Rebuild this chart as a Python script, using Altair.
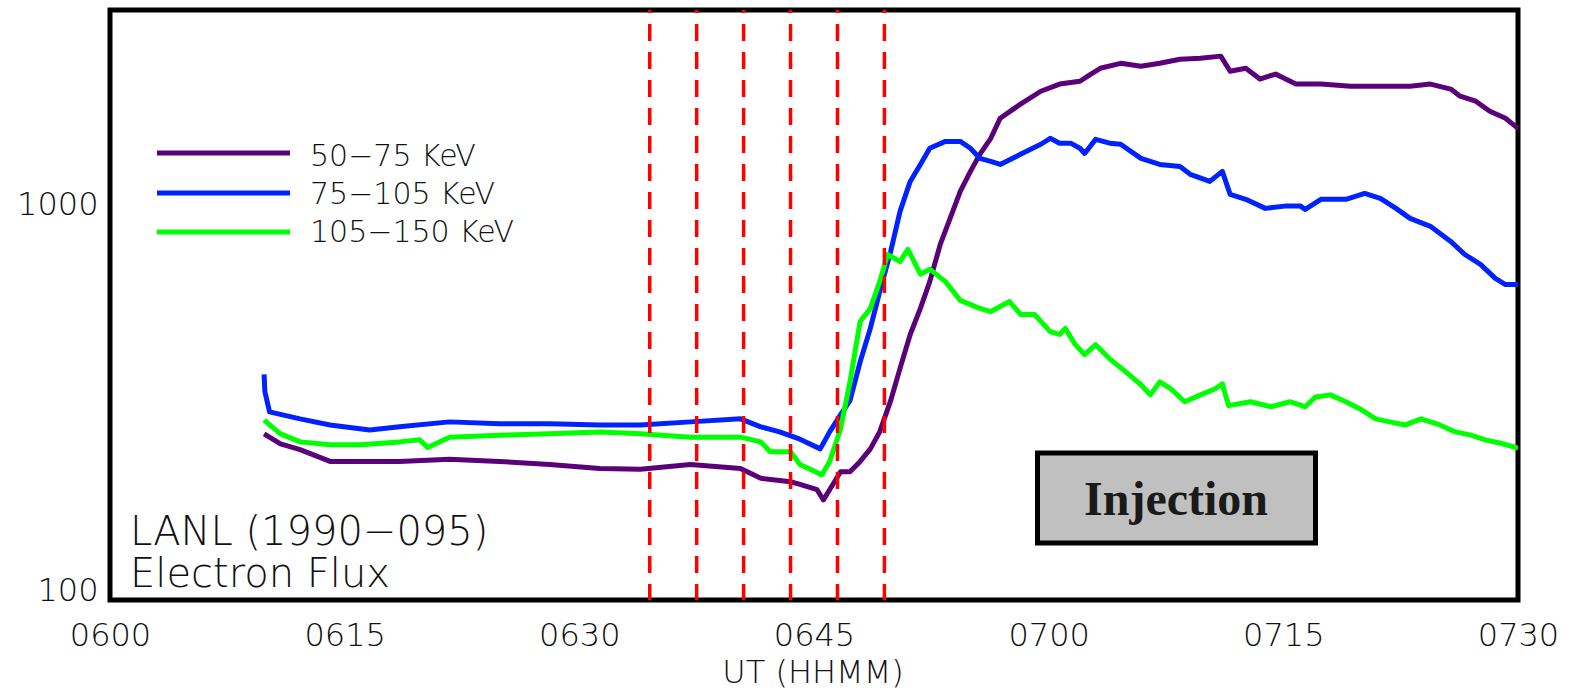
import altair as alt
import pandas as pd

# time = minutes after 06:00 UT, flux in counts
purple_t = [9.85, 10.9, 12.15, 14.07, 16.0, 18.5, 21.7, 24.9, 28.1, 31.3, 33.9, 37.1, 40.3, 41.6, 43.5,
            44.1, 45.2, 45.6, 46.7, 47.3, 47.95, 48.6, 49.2, 49.9, 50.5, 51.15, 51.8, 52.4, 53.07, 53.7,
            54.35, 55.0, 55.6, 56.3, 56.9, 58.2, 59.5, 60.7, 62.0, 62.7, 63.3, 64.6, 65.9, 67.1, 68.4,
            69.7, 71.0, 71.6, 72.6, 73.5, 74.5, 75.8, 77.4, 79.3, 81.2, 83.1, 84.4, 85.7, 86.3, 87.3,
            88.2, 89.2, 90.0]
purple_v = [263, 248, 240, 224, 224, 224, 227, 224, 220, 215, 214, 220, 215, 203, 199,
            196, 190, 179, 211, 211, 224, 241, 266, 319, 385, 469, 546, 638, 792, 922,
            1078, 1212, 1338, 1469, 1651, 1792, 1932, 2014, 2048, 2135, 2208, 2273, 2235, 2273, 2328,
            2340, 2370, 2170, 2208, 2074, 2135, 2014, 2014, 1990, 1990, 1990, 2014, 1956, 1877, 1823,
            1719, 1651, 1556]

blue_t = [9.85, 9.9, 10.2, 12.15, 14.07, 16.6, 18.5, 21.7, 24.9, 28.1, 31.3, 33.9, 37.1, 40.3, 41.6,
          42.8, 44.1, 45.4, 46.0, 46.7, 47.3, 47.95, 48.6, 49.2, 49.9, 50.5, 51.15, 51.8, 52.4, 53.4,
          54.35, 55.0, 55.6, 56.3, 56.9, 58.2, 59.5, 60.1, 60.7, 61.4, 62.0, 62.3, 63.0, 63.9, 64.6,
          65.9, 67.1, 68.4, 69.05, 70.3, 71.1, 71.6, 72.6, 73.85, 75.1, 76.1, 76.4, 77.4, 79.0, 80.2,
          81.2, 82.2, 83.1, 84.4, 85.7, 86.6, 87.6, 88.55, 89.2, 90.0]
blue_v = [372, 336, 299, 287, 277, 269, 274, 282, 279, 279, 277, 277, 282, 287, 274,
          266, 255, 241, 266, 294, 319, 400, 486, 602, 760, 960, 1143, 1262, 1386, 1443,
          1443, 1386, 1307, 1284, 1262, 1338, 1419, 1469, 1428, 1428, 1386, 1345, 1460, 1428, 1419,
          1307, 1262, 1247, 1191, 1143, 1212, 1060, 1030, 977, 990, 990, 971, 1030, 1030, 1066,
          1036, 977, 922, 880, 806, 747, 705, 650, 627, 627]

green_t = [9.85, 10.9, 12.15, 14.07, 16.0, 18.5, 19.8, 20.3, 21.7, 24.9, 28.1, 31.3, 33.9, 37.1, 40.3,
           41.6, 42.2, 43.5, 44.1, 45.1, 45.5, 46.0, 46.7, 47.3, 47.95, 48.6, 49.2, 49.7, 50.5, 51.0,
           51.8, 52.4, 53.4, 54.35, 55.6, 56.3, 56.9, 57.5, 58.2, 59.1, 60.1, 60.7, 61.06, 61.7, 62.3,
           63.0, 63.9, 64.9, 65.9, 66.5, 67.1, 67.8, 68.7, 69.7, 70.65, 71.1, 71.5, 72.9, 74.2, 75.45,
           76.4, 77.05, 78.0, 79.0, 79.9, 80.9, 81.8, 82.8, 83.8, 85.0, 86.0, 87.0, 87.9, 88.9, 90.0]
green_v = [285, 263, 251, 247, 247, 251, 254, 243, 258, 261, 263, 266, 263, 258, 258,
           251, 237, 237, 220, 211, 207, 224, 271, 356, 506, 546, 638, 747, 717, 770,
           666, 686, 638, 572, 546, 536, 552, 568, 527, 527, 477, 469, 486, 442, 417,
           442, 407, 378, 350, 330, 356, 342, 317, 330, 342, 352, 310, 317, 308, 317,
           308, 326, 330, 317, 304, 287, 282, 277, 287, 277, 266, 261, 254, 249, 242]

series_names = ["50\u221275 KeV", "75\u2212105 KeV", "105\u2212150 KeV"]
series_colors = ["#5a0078", "#0022ff", "#00ff00"]
marker_times = [34.5, 37.5, 40.5, 43.5, 46.5, 49.5]
x_ticks = [0, 15, 30, 45, 60, 75, 90]
y_ticks = [100, 1000]

FONT = "DejaVu Sans"
FW = 300
W, H = 1408, 590

xscale = alt.Scale(domain=[0, 90], nice=False, zero=False)
yscale = alt.Scale(type="log", domain=[100, 3100], nice=False)

xaxis = alt.Axis(values=x_ticks, ticks=False, domain=False, grid=False, title=None,
                 labelExpr="'0' + (6 + floor(datum.value / 60)) + (datum.value % 60 < 10 ? '0' : '') + (datum.value % 60)",
                 labelFont=FONT, labelFontSize=32, labelFontWeight=FW, labelColor="#111", labelPadding=20,
                 labelFlush=False, labelOverlap=False, labelBound=False)
yaxis = alt.Axis(values=y_ticks, ticks=False, domain=False, grid=False, title=None, format="d",
                 labelFont=FONT, labelFontSize=32, labelFontWeight=FW, labelColor="#111", labelPadding=12,
                 labelBaseline={"condition": {"test": "datum.value == 100", "value": "alphabetic"}, "value": "middle"},
                 labelOverlap=False, labelBound=False)

layers = []
for i, (tt, vv) in enumerate([(purple_t, purple_v), (blue_t, blue_v), (green_t, green_v)]):
    df = pd.DataFrame({"t": tt, "v": vv})
    layers.append(alt.Chart(df).mark_line(color=series_colors[i], strokeWidth=5,
                                          strokeJoin="round", clip=True).encode(
        x=alt.X("t:Q", scale=xscale, axis=xaxis),
        y=alt.Y("v:Q", scale=yscale, axis=yaxis),
        order="t:Q"))

rules = alt.Chart(pd.DataFrame({"t": marker_times})).mark_rule(
    color="#ff0000", strokeWidth=3.5, strokeDash=[17, 11], strokeDashOffset=14
).encode(x=alt.X("t:Q", scale=xscale, axis=xaxis), y=alt.value(0), y2=alt.value(H))
layers.append(rules)

# legend
leg_line_y = [143, 183, 222]
leg_text_y = [156, 194, 232]
for i in range(3):
    layers.append(alt.Chart(pd.DataFrame({"a": [0]})).mark_rule(
        color=series_colors[i], strokeWidth=5, strokeCap="butt"
    ).encode(x=alt.value(47), x2=alt.value(180), y=alt.value(leg_line_y[i])))
    layers.append(alt.Chart(pd.DataFrame({"a": [0]})).mark_text(
        text=series_names[i], font=FONT, fontSize=30, fontWeight=FW, color="#111", align="left",
        baseline="alphabetic"
    ).encode(x=alt.value(200), y=alt.value(leg_text_y[i])))

# annotations
for txt, yy in [("LANL (1990\u2212095)", 535), ("Electron Flux", 577)]:
    layers.append(alt.Chart(pd.DataFrame({"a": [0]})).mark_text(
        text=txt, font=FONT, fontSize=40, fontWeight=FW, color="#111", align="left", baseline="alphabetic"
    ).encode(x=alt.value(20), y=alt.value(yy)))

layers.append(alt.Chart(pd.DataFrame({"a": [0]})).mark_rect(
    fill="#c0c0c0", stroke="black", strokeWidth=5
).encode(x=alt.value(927.5), x2=alt.value(1205.5), y=alt.value(443), y2=alt.value(533)))
layers.append(alt.Chart(pd.DataFrame({"a": [0]})).mark_text(
    text="Injection", font="Liberation Serif", fontSize=48, fontWeight="bold", color="#1a1a1a",
    align="center", baseline="alphabetic"
).encode(x=alt.value(1066), y=alt.value(505)))

# x axis title
layers.append(alt.Chart(pd.DataFrame({"a": [0]})).mark_text(
    text="UT (HHMM)", font=FONT, fontSize=32, fontWeight=FW, color="#111", align="center",
    baseline="alphabetic"
).encode(x=alt.value(703), y=alt.value(673)))

chart = alt.layer(*layers).properties(
    width=W, height=H,
    autosize=alt.AutoSizeParams(type="none"),
    padding={"left": 110, "top": 10, "right": 52, "bottom": 94},
    background="white",
).configure_view(stroke="black", strokeWidth=5)

chart.save("out.html", embed_options={"renderer": "svg", "actions": False})
